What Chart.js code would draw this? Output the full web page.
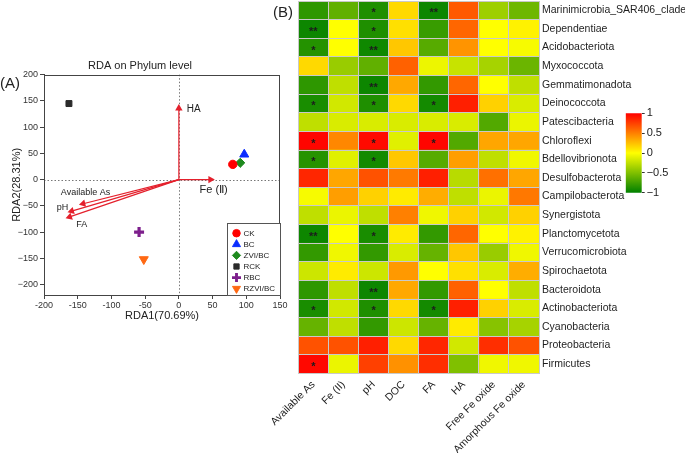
<!DOCTYPE html>
<html>
<head>
<meta charset="utf-8">
<script src="https://cdn.jsdelivr.net/npm/chart.js@4.4.1/dist/chart.umd.min.js"></script>
<style>
  html, body { margin: 0; padding: 0; background: #fff; }
  #wrap { position: relative; width: 685px; height: 453px; overflow: hidden; }
  canvas { position: absolute; }
  #rda { left: 0; top: 0; }
  #heat { left: 270px; top: 0; }
  #bar { left: 615px; top: 100px; }
</style>
</head>
<body>
<div id="wrap">
  <canvas id="rda" width="290" height="330"></canvas>
  <canvas id="heat" width="415" height="453"></canvas>
  <canvas id="bar" width="70" height="105"></canvas>
</div>
<script>
const FONT = '"Liberation Sans", Arial, sans-serif';

// ---- panel A: RDA biplot ----
const sampleNames = ['CK', 'BC', 'ZVI/BC', 'RCK', 'RBC', 'RZVI/BC'];
const sampleRDA1 = [80, 97, 91, -163, -59, -52];
const sampleRDA2 = [29, 48, 32, 145, -100, -152];

const envNames = ['HA', 'Fe (Ⅱ)', 'Available As', 'pH', 'FA'];
const envRDA1 = [0, 47, -142, -159, -162];
const envRDA2 = [136, 0, -46, -60, -71];

const rdaXTicks = [-200, -150, -100, -50, 0, 50, 100, 150];
const rdaYTicks = [-200, -150, -100, -50, 0, 50, 100, 150, 200];

// ---- panel B: correlation heatmap ----
const phyla = [
  'Marinimicrobia_SAR406_clade', 'Dependentiae', 'Acidobacteriota', 'Myxococcota',
  'Gemmatimonadota', 'Deinococcota', 'Patescibacteria', 'Chloroflexi', 'Bdellovibrionota',
  'Desulfobacterota', 'Campilobacterota', 'Synergistota', 'Planctomycetota',
  'Verrucomicrobiota', 'Spirochaetota', 'Bacteroidota', 'Actinobacteriota',
  'Cyanobacteria', 'Proteobacteria', 'Firmicutes'
];
const factors = ['Available As', 'Fe (II)', 'pH', 'DOC', 'FA', 'HA', 'Free Fe oxide', 'Amorphous Fe oxide'];

const corr = [
  [-0.82, -0.62, -0.88, 0.15, -0.95, 0.65, -0.38, -0.57],
  [-0.95, 0.00, -0.88, 0.12, -0.78, 0.60, 0.00, 0.05],
  [-0.86, 0.00, -0.94, 0.22, -0.66, 0.42, 0.00, -0.03],
  [0.15, -0.40, -0.62, 0.62, -0.07, -0.22, -0.35, -0.58],
  [-0.82, -0.25, -0.95, 0.34, -0.80, 0.60, 0.00, -0.25],
  [-0.90, -0.18, -0.88, 0.15, -0.92, 0.88, 0.18, -0.15],
  [-0.25, -0.15, -0.15, -0.15, -0.15, -0.15, -0.68, -0.08],
  [0.98, 0.47, 0.96, -0.12, 0.98, -0.68, 0.35, 0.35],
  [-0.85, -0.12, -0.92, 0.22, -0.66, 0.38, -0.25, -0.06],
  [0.85, 0.35, 0.68, 0.52, 0.88, -0.28, 0.56, 0.35],
  [-0.03, 0.38, 0.18, 0.08, 0.32, -0.25, -0.08, 0.53],
  [-0.25, -0.08, -0.25, 0.50, -0.06, 0.18, -0.18, 0.18],
  [-0.95, 0.00, -0.90, 0.08, -0.80, 0.60, 0.00, 0.05],
  [-0.80, -0.06, -0.80, -0.15, -0.60, 0.22, -0.40, -0.06],
  [-0.20, 0.08, -0.20, 0.40, 0.00, 0.12, -0.15, 0.32],
  [-0.82, -0.25, -0.95, 0.34, -0.80, 0.62, 0.00, -0.25],
  [-0.90, -0.18, -0.88, 0.15, -0.92, 0.88, 0.18, -0.15],
  [-0.60, -0.25, -0.80, -0.20, -0.60, 0.08, -0.47, -0.35],
  [0.68, 0.68, 0.88, 0.15, 0.85, -0.18, 0.82, 0.68],
  [0.97, -0.08, 0.75, 0.43, 0.82, -0.50, -0.06, -0.06]
];

const stars = [
  ['', '', '*', '', '**', '', '', ''],
  ['**', '', '*', '', '', '', '', ''],
  ['*', '', '**', '', '', '', '', ''],
  ['', '', '', '', '', '', '', ''],
  ['', '', '**', '', '', '', '', ''],
  ['*', '', '*', '', '*', '', '', ''],
  ['', '', '', '', '', '', '', ''],
  ['*', '', '*', '', '*', '', '', ''],
  ['*', '', '*', '', '', '', '', ''],
  ['', '', '', '', '', '', '', ''],
  ['', '', '', '', '', '', '', ''],
  ['', '', '', '', '', '', '', ''],
  ['**', '', '*', '', '', '', '', ''],
  ['', '', '', '', '', '', '', ''],
  ['', '', '', '', '', '', '', ''],
  ['', '', '**', '', '', '', '', ''],
  ['*', '', '*', '', '*', '', '', ''],
  ['', '', '', '', '', '', '', ''],
  ['', '', '', '', '', '', '', ''],
  ['*', '', '', '', '', '', '', '']
];

const colorbarTicks = [-1, -0.5, 0, 0.5, 1];

// styles
const ARROW = '#e4202c';
const sampleStyle = [
  { color: '#ff0000', shape: 'circle', r: 4.2, rot: 0, bw: 1 },
  { color: '#0a2cff', shape: 'triangle', r: 5.2, rot: 0, bw: 1 },
  { color: '#1e8a1e', shape: 'rectRot', r: 4.6, rot: 0, bw: 1 },
  { color: '#2b2b2b', shape: 'rect', r: 4.2, rot: 0, bw: 1 },
  { color: '#7d1f8c', shape: 'cross', r: 5, rot: 0, bw: 3.2 },
  { color: '#ff6812', shape: 'triangle', r: 5.2, rot: 180, bw: 1 }
];
const envLabelStyle = [
  { dx: 8, dy: 1, align: 'left', size: 10 },
  { dx: -11, dy: 10.5, align: 'left', size: 11 },
  { dx: 2.4, dy: -11.6, align: 'center', size: 9 },
  { dx: -3.5, dy: -3.7, align: 'right', size: 9 },
  { dx: 6.7, dy: 7.6, align: 'left', size: 9 }
];

// green (-1) -> yellow (0) -> red (1)
function colorFor(v) {
  v = Math.max(-1, Math.min(1, v));
  let r, g;
  if (v >= 0) { r = 255; g = Math.round(255 * (1 - v)); }
  else { r = Math.round(255 * (1 + v)); g = Math.round(255 + 127 * v); }
  return `rgb(${r},${g},0)`;
}

function headAngle(chart, tx, ty) {
  const xs = chart.scales.x, ys = chart.scales.y;
  if (!xs || !ys) return 0;
  const dx = xs.getPixelForValue(tx) - xs.getPixelForValue(0);
  const dy = ys.getPixelForValue(ty) - ys.getPixelForValue(0);
  return Math.atan2(dx, -dy) * 180 / Math.PI;
}

function drawMark(ctx, st, x, y, scale) {
  ctx.save();
  ctx.fillStyle = st.color;
  ctx.strokeStyle = st.color;
  ctx.lineWidth = st.bw * scale;
  Chart.helpers.drawPoint(ctx, { pointStyle: st.shape, rotation: st.rot, radius: st.r * scale, borderWidth: st.bw }, x, y);
  ctx.restore();
}

const rdaDecor = {
  id: 'rdaDecor',
  beforeDatasetsDraw(chart) {
    const { ctx, chartArea: a, scales: { x, y } } = chart;
    const x0 = Math.round(x.getPixelForValue(0)) + 0.5;
    const y0 = Math.round(y.getPixelForValue(0)) + 0.5;
    ctx.save();
    ctx.strokeStyle = '#777';
    ctx.lineWidth = 1;
    ctx.setLineDash([1.5, 2]);
    ctx.beginPath();
    ctx.moveTo(x0, a.top); ctx.lineTo(x0, a.bottom);
    ctx.moveTo(a.left, y0); ctx.lineTo(a.right, y0);
    ctx.stroke();
    ctx.restore();
  },
  afterDraw(chart) {
    const { ctx, chartArea: a, scales: { x, y } } = chart;
    ctx.save();
    // frame
    ctx.strokeStyle = '#444';
    ctx.lineWidth = 1;
    ctx.strokeRect(Math.round(a.left) + 0.5, Math.round(a.top) + 0.5, Math.round(a.width) - 1, Math.round(a.height));

    // arrow labels
    ctx.fillStyle = '#222';
    ctx.textBaseline = 'middle';
    envNames.forEach((name, i) => {
      const st = envLabelStyle[i];
      ctx.font = `${st.size}px ${FONT}`;
      ctx.textAlign = st.align;
      ctx.fillText(name, x.getPixelForValue(envRDA1[i]) + st.dx, y.getPixelForValue(envRDA2[i]) + st.dy);
    });

    // legend box
    const bw = 53, bh = 72;
    const bx = Math.round(a.right) - bw + 0.5, by = Math.round(a.bottom) - bh + 0.5;
    ctx.fillStyle = '#fff';
    ctx.fillRect(bx, by, bw, bh);
    ctx.strokeStyle = '#555';
    ctx.strokeRect(bx, by, bw, bh);
    ctx.font = `8px ${FONT}`;
    ctx.textAlign = 'left';
    sampleNames.forEach((name, i) => {
      const cy = by + 9.7 + i * 11.1;
      drawMark(ctx, sampleStyle[i], bx + 9, cy, 0.9);
      ctx.fillStyle = '#222';
      ctx.fillText(name, bx + 16, cy + 0.5);
    });

    // panel letter
    ctx.font = `15px ${FONT}`;
    ctx.fillStyle = '#222';
    ctx.textAlign = 'left';
    ctx.fillText('(A)', 0, 84);
    ctx.restore();
  }
};

const sampleSets = sampleNames.map((name, i) => ({
  label: name,
  data: [{ x: sampleRDA1[i], y: sampleRDA2[i] }],
  pointStyle: sampleStyle[i].shape,
  pointRotation: sampleStyle[i].rot,
  pointRadius: sampleStyle[i].r,
  pointBorderWidth: sampleStyle[i].bw,
  backgroundColor: sampleStyle[i].color,
  borderColor: sampleStyle[i].color
}));

const arrowSets = envNames.map((name, i) => ({
  label: name,
  data: [{ x: 0, y: 0 }, { x: envRDA1[i], y: envRDA2[i] }],
  showLine: true,
  borderColor: ARROW,
  borderWidth: 1.2,
  backgroundColor: ARROW,
  pointStyle: 'triangle',
  pointRadius: [0, 4.3],
  pointBorderWidth: 0,
  pointRotation: c => headAngle(c.chart, envRDA1[i], envRDA2[i])
}));

const tickFont = { family: FONT, size: 9 };

new Chart(document.getElementById('rda'), {
  type: 'scatter',
  data: { datasets: [...arrowSets, ...sampleSets] },
  options: {
    responsive: false,
    animation: false,
    events: [],
    layout: { padding: { top: 59.5, left: 0, right: 10, bottom: 0 } },
    plugins: {
      legend: { display: false },
      tooltip: { enabled: false },
      title: {
        display: true,
        text: 'RDA on Phylum level',
        color: '#222',
        font: { family: FONT, size: 11, weight: 'normal' },
        padding: { top: 0, bottom: 2 }
      }
    },
    scales: {
      x: {
        type: 'linear',
        min: -200,
        max: 150,
        afterBuildTicks: s => { s.ticks = rdaXTicks.map(v => ({ value: v })); },
        ticks: { color: '#333', font: tickFont, padding: 1, maxRotation: 0 },
        grid: { drawOnChartArea: false, tickLength: 4, color: '#444' },
        border: { color: '#444' },
        title: { display: true, text: 'RDA1(70.69%)', color: '#222', font: { family: FONT, size: 11 }, padding: { top: 0, bottom: 7.4 } },
        afterFit: s => { s.height = 35; }
      },
      y: {
        type: 'linear',
        min: -220,
        max: 200,
        afterBuildTicks: s => { s.ticks = rdaYTicks.map(v => ({ value: v })); },
        ticks: { color: '#333', font: tickFont, padding: 2, callback: v => String(v).replace('-', '−') },
        grid: { drawOnChartArea: false, tickLength: 4, color: '#444' },
        border: { color: '#444' },
        title: { display: true, text: 'RDA2(28.31%)', color: '#222', font: { family: FONT, size: 11 }, padding: { top: 10, bottom: 0 } },
        afterFit: s => { s.width = 44; }
      }
    }
  },
  plugins: [rdaDecor]
});

// ---- heatmap ----
const heatDecor = {
  id: 'heatDecor',
  afterDatasetsDraw(chart) {
    const { ctx, scales: { x, y } } = chart;
    ctx.save();
    ctx.fillStyle = '#1c1c1c';
    ctx.font = `bold 11px ${FONT}`;
    ctx.textAlign = 'center';
    ctx.textBaseline = 'middle';
    stars.forEach((row, r) => row.forEach((s, c) => {
      if (s) ctx.fillText(s, x.getPixelForValue(c + 0.5), y.getPixelForValue(r) + 3);
    }));
    ctx.restore();
  },
  afterDraw(chart) {
    const { ctx } = chart;
    ctx.save();
    ctx.font = `15px ${FONT}`;
    ctx.fillStyle = '#222';
    ctx.textBaseline = 'middle';
    ctx.fillText('(B)', 3, 13);
    ctx.restore();
  }
};

const gridStyle = { offset: true, color: '#c9c9c9', lineWidth: 1, drawTicks: false, z: 1 };

new Chart(document.getElementById('heat'), {
  type: 'bar',
  data: {
    labels: phyla,
    datasets: factors.map((f, c) => ({
      label: f,
      data: phyla.map(() => 1),
      backgroundColor: ctx => colorFor(corr[ctx.dataIndex][c]),
      borderWidth: 0,
      barPercentage: 1,
      categoryPercentage: 1
    }))
  },
  options: {
    indexAxis: 'y',
    responsive: false,
    animation: false,
    events: [],
    layout: { padding: { left: 28.3, top: 1, right: 0, bottom: 0 } },
    plugins: { legend: { display: false }, tooltip: { enabled: false } },
    scales: {
      x: { type: 'linear', stacked: true, min: 0, max: factors.length, display: false },
      y: {
        stacked: true,
        position: 'right',
        offset: true,
        grid: gridStyle,
        border: { display: false },
        ticks: { color: '#1e1e1e', font: { family: FONT, size: 10.5 }, padding: 3, autoSkip: false },
        afterFit: s => { s.width = 146; s.paddingTop = 0; s.paddingBottom = 0; }
      },
      x2: {
        type: 'category',
        labels: factors,
        position: 'bottom',
        offset: true,
        grid: gridStyle,
        border: { display: false },
        ticks: { minRotation: 45, maxRotation: 45, autoSkip: false, color: '#1e1e1e', font: { family: FONT, size: 10.5 }, padding: 5 },
        afterFit: s => { s.height = 79.5; s.paddingLeft = 0; s.paddingRight = 0; }
      }
    }
  },
  plugins: [heatDecor]
});

// ---- colour bar ----
function barGradient(chart) {
  const a = chart.chartArea;
  if (!a) return colorFor(0);
  const g = chart.ctx.createLinearGradient(0, a.bottom, 0, a.top);
  for (let k = 0; k <= 20; k++) g.addColorStop(k / 20, colorFor(-1 + k / 10));
  return g;
}

new Chart(document.getElementById('bar'), {
  type: 'bar',
  data: {
    labels: [''],
    datasets: [{
      data: [[-1, 1]],
      backgroundColor: c => barGradient(c.chart),
      borderWidth: 0,
      barPercentage: 1,
      categoryPercentage: 1
    }]
  },
  options: {
    responsive: false,
    animation: false,
    events: [],
    layout: { padding: { left: 10.7, top: 13.3, bottom: 12.3, right: 0 } },
    plugins: { legend: { display: false }, tooltip: { enabled: false } },
    scales: {
      x: { display: false },
      y: {
        position: 'right',
        min: -1,
        max: 1,
        afterBuildTicks: s => { s.ticks = colorbarTicks.map(v => ({ value: v })); },
        ticks: { color: '#222', font: { family: FONT, size: 11 }, padding: 2, callback: v => String(v).replace('-', '−') },
        grid: { drawOnChartArea: false, tickLength: 3, color: '#333' },
        border: { display: false },
        afterFit: s => { s.width = 43.3; }
      }
    }
  }
});
</script>
</body>
</html>
